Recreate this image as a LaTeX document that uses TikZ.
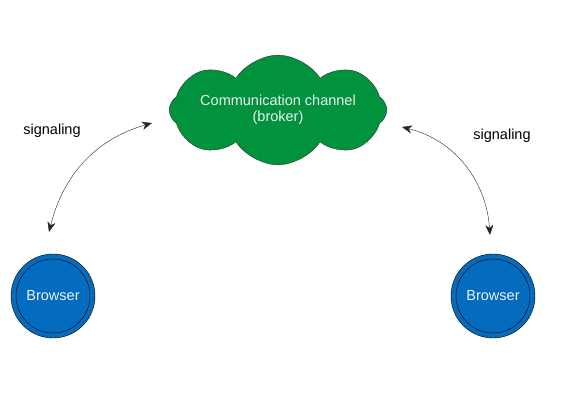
\documentclass[tikz,border=0pt]{standalone}
\usepackage{fontspec}
\setmainfont{Liberation Sans}
\usepackage{tikz}
\usetikzlibrary{shapes.symbols}
\usetikzlibrary{arrows.meta}
\definecolor{cloudgreen}{RGB}{0,146,60}
\definecolor{browserblue}{RGB}{4,108,190}
\definecolor{shapetext}{RGB}{236,240,244}
\tikzset{
    browserbox/.style={circle, draw=black, fill=browserblue, minimum size=84pt, inner sep=0pt, text=shapetext},
    brokerbox/.style={cloud, cloud puffs=8, cloud puff arc=115, aspect=3.2, draw=black!80, fill=cloudgreen,
        minimum width=190pt, minimum height=70pt, text=shapetext, align=center, inner sep=0pt},
    signal/.style={{Stealth[length=10pt,width=8pt,inset=3pt]}-{Stealth[length=10pt,width=8pt,inset=3pt]}, black!85, thin}
}
\newcommand{\browser}[3]{ \node[browserbox] (#1) at ( #2 , #3 ) {Browser};
    \draw[black] (#1.center) circle (37); }

\begin{document}
\fontsize{14.5}{16.5}\selectfont
\begin{tikzpicture}[x=1pt,y=1pt]
        \useasboundingbox (0,0) rectangle (582,409);
        % broker
        \node[brokerbox] (broker) at (278,299) {Communication channel\\(broker)};
        % browsers
        \browser{leftbrowser}{53}{113}
        \browser{rightbrowser}{493}{113}
        % arrow ends
        \coordinate (lefttip) at (49,177);
        \coordinate (leftend) at (152,286);
        \coordinate (righttip) at (402,282);
        \coordinate (rightend) at (490,174);
        % signaling
        \draw[signal] (lefttip) to[out=76,in=196] (leftend);
        \draw[signal] (righttip) to[out=-14,in=94] (rightend);
        \node (leftlabel) at (52,278) {signaling};
        \node (rightlabel) at (502,273) {signaling};
    \end{tikzpicture}
\end{document}
